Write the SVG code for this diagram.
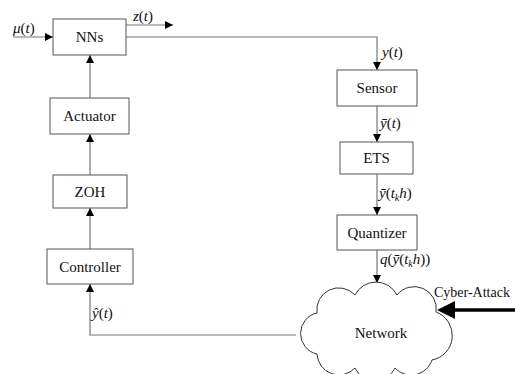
<svg xmlns="http://www.w3.org/2000/svg" width="515" height="374" viewBox="0 0 515 374" font-family="Liberation Serif, Times New Roman, serif">
<style>
.box{fill:#fff;stroke:#555;stroke-width:1}
text{font-family:"Liberation Serif",serif}
.t{font-size:15px;fill:#111;text-anchor:middle}
.m{font-size:15px;fill:#111}
.i{font-style:italic}
.ln{fill:none;stroke:#777;stroke-width:1.2}
</style>
<defs>
<marker id="ah" viewBox="0 0 10 10" refX="10" refY="5" markerWidth="8" markerHeight="8" markerUnits="userSpaceOnUse" orient="auto">
<path d="M0,0 L10,5 L0,10 Z" fill="#000"/>
</marker>
</defs>
<rect width="515" height="374" fill="#fff"/>
<g id="connectors">
<line class="ln" x1="13" y1="37" x2="53" y2="37" marker-end="url(#ah)"/>
<line class="ln" x1="126" y1="25" x2="173" y2="25" marker-end="url(#ah)"/>
<polyline class="ln" points="126,37 377,37 377,70" marker-end="url(#ah)"/>
<line class="ln" x1="377" y1="106" x2="377" y2="142" marker-end="url(#ah)"/>
<line class="ln" x1="377" y1="174" x2="377" y2="215" marker-end="url(#ah)"/>
<line class="ln" x1="377" y1="250" x2="377" y2="283" marker-end="url(#ah)"/>
<polyline class="ln" points="296,335 90,335 90,284" marker-end="url(#ah)"/>
<line class="ln" x1="90" y1="249" x2="90" y2="208" marker-end="url(#ah)"/>
<line class="ln" x1="90" y1="175" x2="90" y2="134" marker-end="url(#ah)"/>
<line class="ln" x1="90" y1="98" x2="90" y2="55" marker-end="url(#ah)"/>
<line x1="515" y1="310" x2="452" y2="310" stroke="#000" stroke-width="3.5"/>
<polygon points="437,310 455,301 455,319" fill="#000"/>
<text class="m" x="13" y="33"><tspan class="i">μ</tspan>(<tspan class="i">t</tspan>)</text>
<text class="m" x="133" y="21"><tspan class="i">z</tspan>(<tspan class="i">t</tspan>)</text>
<text class="m" x="382" y="57"><tspan class="i">y</tspan>(<tspan class="i">t</tspan>)</text>
<text class="m" x="380" y="128"><tspan class="i">ȳ</tspan>(<tspan class="i">t</tspan>)</text>
<text class="m" x="379" y="198"><tspan class="i">ȳ</tspan>(<tspan class="i">t</tspan><tspan class="i" font-size="10" dy="3">k</tspan><tspan class="i" dy="-3">h</tspan>)</text>
<text class="m" x="380" y="264"><tspan class="i">q</tspan>(<tspan class="i">ȳ</tspan>(<tspan class="i">t</tspan><tspan class="i" font-size="10" dy="3">k</tspan><tspan class="i" dy="-3">h</tspan>))</text>
<text class="m" x="92" y="318"><tspan class="i">ŷ</tspan>(<tspan class="i">t</tspan>)</text>
<text x="434" y="297" font-size="14" fill="#111">Cyber-Attack</text>
</g>
<g id="nns"><rect class="box" x="53" y="19" width="73" height="36"/><text class="t" x="89.5" y="42">NNs</text></g>
<g id="actuator"><rect class="box" x="50" y="98" width="79" height="36"/><text class="t" x="89.5" y="121">Actuator</text></g>
<g id="zoh"><rect class="box" x="53" y="175" width="74" height="33"/><text class="t" x="90" y="196.5">ZOH</text></g>
<g id="controller"><rect class="box" x="47" y="249" width="86" height="35"/><text class="t" x="90" y="271.5">Controller</text></g>
<g id="sensor"><rect class="box" x="337" y="70" width="80" height="36"/><text class="t" x="377" y="93">Sensor</text></g>
<g id="ets"><rect class="box" x="340" y="142" width="73" height="32"/><text class="t" x="376.5" y="163">ETS</text></g>
<g id="quantizer"><rect class="box" x="337" y="215" width="80" height="35"/><text class="t" x="377" y="237.5">Quantizer</text></g>
<g id="network">
<path d="M317,354 A21,21 0 0,1 317,313 A22,22 0 0,1 355,295 A23.5,23.5 0 0,1 397,295 A22,22 0 0,1 436,312 A25,25 0 0,1 432,360 A22,22 0 0,1 395,368 A22,22 0 0,1 355,368 A22,22 0 0,1 317,354 Z" fill="#fff" stroke="#333" stroke-width="1"/>
<text class="t" x="381" y="338">Network</text>
</g>
</svg>
